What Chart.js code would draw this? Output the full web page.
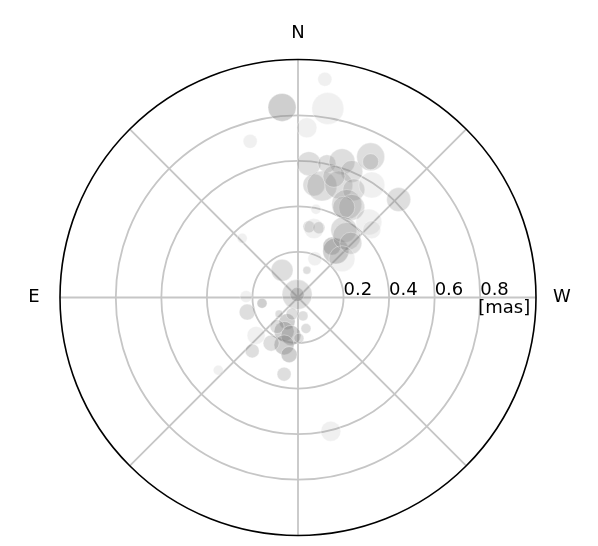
<!DOCTYPE html>
<html>
<head>
<meta charset="utf-8">
<script src="https://cdn.jsdelivr.net/npm/chart.js@4"></script>
<style>
  html, body { margin: 0; padding: 0; background: #fff; overflow: hidden; }
  canvas { display: block; }
</style>
</head>
<body>
<canvas id="chart" width="598" height="546"></canvas>
<script>
// offsets in mas: x positive = West, y positive = North
const offsetW = [-0.070, 0.131, 0.118, 0.039, -0.210, -0.245,
                 0.048, 0.127, 0.193, 0.236, 0.319, 0.319, 0.070, 0.105, 0.179, 0.158,
                 0.324, 0.245, 0.442, 0.214, 0.236, 0.201, 0.311, 0.324, 0.048, 0.092,
                 0.070, 0.201, 0.214, 0.232, 0.149, 0.166, 0.193, 0.074, 0.039, 0.079,
                 -0.070, -0.004, -0.004,
                 -0.228, -0.158, -0.223, -0.083, -0.026, 0.022, -0.048, 0.035, -0.061, -0.031,
                 -0.092, -0.184, -0.118, -0.061, -0.039, -0.201, -0.061, 0.004, -0.350, 0.144];
const offsetN = [0.858, 0.853, 0.985, 0.766, 0.705, 0.267,
                 0.604, 0.604, 0.613, 0.569, 0.635, 0.613, 0.508, 0.503, 0.508, 0.547,
                 0.508, 0.486, 0.442, 0.420, 0.407, 0.407, 0.341, 0.306, 0.319, 0.315,
                 0.311, 0.306, 0.276, 0.245, 0.232, 0.210, 0.175, 0.175, 0.123, 0.398,
                 0.123, 0.013, 0.013,
                 0.004, -0.026, -0.066, -0.074, -0.074, -0.083, -0.109, -0.140, -0.153, -0.171,
                 -0.131, -0.171, -0.206, -0.214, -0.258, -0.241, -0.346, -0.184, -0.328, -0.604];
// component size (bubble radius)
const compSize = [14, 16, 7, 10, 7, 5,
                  12, 9, 13, 11, 14, 8, 11, 15, 14, 11,
                  13, 11, 12, 15, 13, 11, 13, 9, 6, 6,
                  10, 13, 14, 11, 9, 13, 13, 7, 4, 5,
                  11, 15, 7,
                  6, 5, 8, 4, 6, 5, 8, 5, 10, 10,
                  7, 9, 8, 10, 8, 7, 7, 5, 5, 10];
// 0 = faint, 1 = medium, 2 = strong
const compGroup = [2, 0, 0, 0, 0, 0,
                   1, 1, 1, 1, 1, 1, 1, 1, 1, 1,
                   0, 1, 1, 1, 1, 1, 0, 0, 1, 1,
                   0, 1, 1, 1, 2, 2, 0, 0, 1, 0,
                   1, 1, 2,
                   0, 2, 1, 1, 1, 1, 2, 1, 2, 2,
                   1, 0, 1, 2, 2, 1, 1, 1, 0, 0];
const ringValues = [0.2, 0.4, 0.6, 0.8];
const ringLabels = ['0.2', '0.4', '0.6', '0.8'];
const compass = ['N', 'E', 'W'];
const rMax = 1.045;

const groupAlpha = [0.12, 0.26, 0.38];

function pointsFor(g) {
    const pts = [];
    for (let i = 0; i < offsetW.length; i++) {
        if (compGroup[i] === g) pts.push({ x: offsetW[i], y: offsetN[i], r: compSize[i] });
    }
    return pts;
}

const polarGrid = {
    id: 'polarGrid',
    beforeDatasetsDraw(chart) {
        const { ctx, scales: { x, y } } = chart;
        const cx = x.getPixelForValue(0), cy = y.getPixelForValue(0);
        const R = x.getPixelForValue(rMax) - cx;
        ctx.save();
        ctx.strokeStyle = '#c6c6c6';
        ctx.lineWidth = 1.8;
        ringValues.forEach(v => {
            const rr = x.getPixelForValue(v) - cx;
            ctx.beginPath();
            ctx.arc(cx, cy, rr, 0, Math.PI * 2);
            ctx.stroke();
        });
        for (let k = 0; k < 8; k++) {
            const a = k * Math.PI / 4;
            ctx.beginPath();
            ctx.moveTo(cx, cy);
            ctx.lineTo(cx + R * Math.cos(a), cy + R * Math.sin(a));
            ctx.stroke();
        }
        ctx.restore();
    },
    afterDatasetsDraw(chart) {
        const { ctx, scales: { x, y } } = chart;
        const cx = x.getPixelForValue(0), cy = y.getPixelForValue(0);
        const R = x.getPixelForValue(rMax) - cx;
        ctx.save();
        ctx.strokeStyle = '#000';
        ctx.lineWidth = 1.6;
        ctx.beginPath();
        ctx.arc(cx, cy, R, 0, Math.PI * 2);
        ctx.stroke();

        ctx.fillStyle = '#000';
        ctx.font = '18px "DejaVu Sans"';
        ctx.textAlign = 'left';
        ctx.textBaseline = 'alphabetic';
        ringValues.forEach((v, i) => {
            ctx.fillText(ringLabels[i], x.getPixelForValue(v), cy - 3);
        });
        ctx.fillText('[mas]', x.getPixelForValue(0.8) - 2, cy + 15);

        ctx.textAlign = 'center';
        ctx.textBaseline = 'middle';
        ctx.fillText(compass[0], cx, cy - R - 26);
        ctx.fillText(compass[1], cx - R - 26, cy);
        ctx.fillText(compass[2], cx + R + 26, cy);
        ctx.restore();
    }
};

new Chart(document.getElementById('chart'), {
    type: 'bubble',
    data: {
        datasets: [0, 1, 2].map(g => ({
            data: pointsFor(g),
            backgroundColor: 'rgba(128,128,128,' + groupAlpha[g] + ')',
            borderColor: 'rgba(255,255,255,0.35)',
            borderWidth: 1
        }))
    },
    options: {
        responsive: false,
        animation: false,
        layout: { padding: { left: 60, right: 62, top: 66, bottom: 4 } },
        plugins: {
            legend: { display: false },
            tooltip: { enabled: false }
        },
        scales: {
            x: { type: 'linear', min: -rMax, max: rMax, display: false },
            y: { type: 'linear', min: -rMax, max: rMax, display: false }
        }
    },
    plugins: [polarGrid]
});
</script>
</body>
</html>
